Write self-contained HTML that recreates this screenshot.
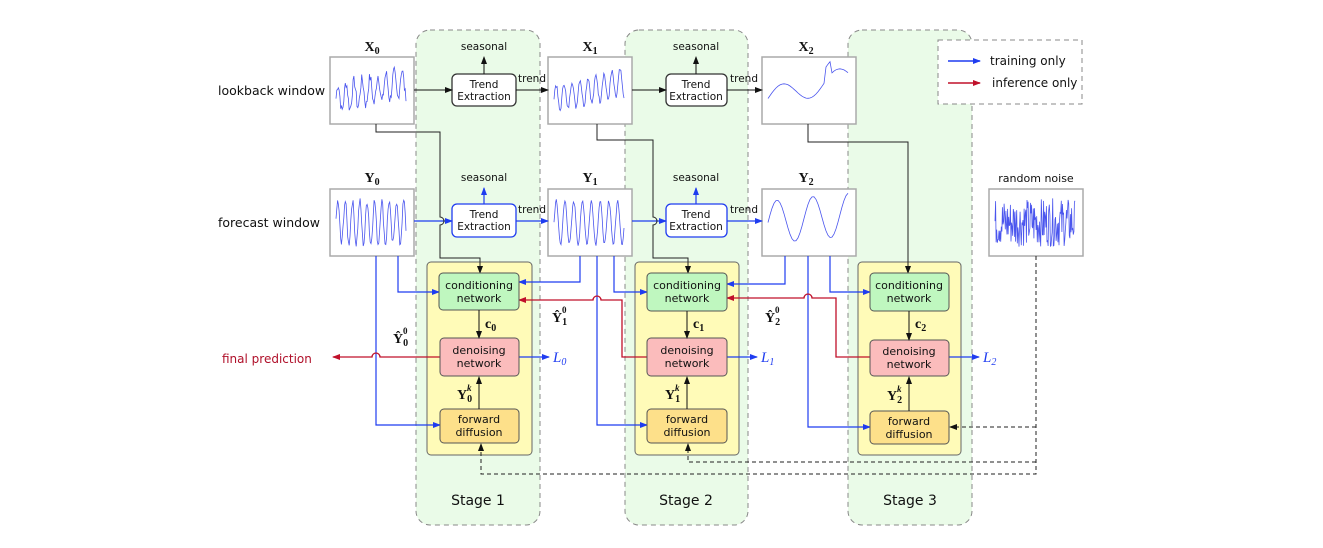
<!DOCTYPE html>
<html><head><meta charset="utf-8"><style>
html,body{margin:0;padding:0;background:#fff}
svg{display:block;font-family:"DejaVu Sans","Liberation Sans",sans-serif}
.lb{fill:#111}
.m{font-family:"Liberation Serif",serif;font-weight:bold;fill:#111}
</style></head><body>
<svg width="1323" height="548" viewBox="0 0 1323 548">
<defs>
<marker id="ak" markerWidth="8" markerHeight="8" refX="7" refY="4" orient="auto" markerUnits="userSpaceOnUse"><path d="M0,1 L8,4 L0,7 z" fill="#111"/></marker>
<marker id="ab" markerWidth="8" markerHeight="8" refX="7" refY="4" orient="auto" markerUnits="userSpaceOnUse"><path d="M0,1 L8,4 L0,7 z" fill="#1f3cf0"/></marker>
<marker id="ar" markerWidth="8" markerHeight="8" refX="7" refY="4" orient="auto" markerUnits="userSpaceOnUse"><path d="M0,1 L8,4 L0,7 z" fill="#c0102a"/></marker>
</defs>
<g fill="#eafbe8" stroke="#888" stroke-dasharray="5,4" stroke-width="1">
<rect x="416" y="30" width="124" height="495" rx="14"/>
<rect x="625" y="30" width="123" height="495" rx="14"/>
<rect x="848" y="30" width="124" height="495" rx="14"/>
<rect x="938" y="40" width="144" height="64" fill="#fff"/>
</g>
<line x1="948" y1="61" x2="980" y2="61" stroke="#1f3cf0" stroke-width="1.5" marker-end="url(#ab)"/>
<text x="990" y="65" class="lb" font-size="12">training only</text>
<line x1="948" y1="83" x2="980" y2="83" stroke="#c0102a" stroke-width="1.5" marker-end="url(#ar)"/>
<text x="992" y="87" class="lb" font-size="12">inference only</text>
<g fill="#fffbb8" stroke="#666" stroke-width="1">
<rect x="427" y="262" width="105" height="193" rx="4"/>
<rect x="635" y="262" width="104" height="193" rx="4"/>
<rect x="858" y="262" width="103" height="193" rx="4"/>
</g>
<g fill="#fff" stroke="#aaa" stroke-width="1.5">
<rect x="330" y="57" width="84" height="67"/><rect x="548" y="57" width="84" height="67"/><rect x="762" y="57" width="94" height="67"/>
<rect x="330" y="189" width="84" height="67"/><rect x="548" y="189" width="84" height="67"/><rect x="762" y="189" width="94" height="67"/>
<rect x="989" y="189" width="94" height="67"/>
</g>
<g fill="none" stroke="#4a55ee" stroke-width="0.8" id="curves"></g>
<g class="m" font-size="14" text-anchor="middle">
<text x="372" y="51">X<tspan font-size="10" dy="3">0</tspan></text>
<text x="590" y="51">X<tspan font-size="10" dy="3">1</tspan></text>
<text x="806" y="51">X<tspan font-size="10" dy="3">2</tspan></text>
<text x="372" y="182">Y<tspan font-size="10" dy="3">0</tspan></text>
<text x="590" y="182">Y<tspan font-size="10" dy="3">1</tspan></text>
<text x="806" y="182">Y<tspan font-size="10" dy="3">2</tspan></text>
</g>
<text x="1036" y="182" class="lb" text-anchor="middle" font-size="11">random noise</text>
<text x="218" y="95" class="lb" font-size="12.5">lookback window</text>
<text x="218" y="227" class="lb" font-size="12.5">forecast window</text>
<g fill="#fff" stroke-width="1.3">
<rect x="452" y="74" width="64" height="32" rx="5" stroke="#333"/>
<rect x="666" y="74" width="61" height="32" rx="5" stroke="#333"/>
<rect x="452" y="204" width="64" height="33" rx="5" stroke="#1f3cf0"/>
<rect x="666" y="204" width="61" height="33" rx="5" stroke="#1f3cf0"/>
</g>
<g class="lb" font-size="10.5" text-anchor="middle">
<text x="484" y="88">Trend</text><text x="484" y="100">Extraction</text>
<text x="696" y="88">Trend</text><text x="696" y="100">Extraction</text>
<text x="484" y="218">Trend</text><text x="484" y="230">Extraction</text>
<text x="696" y="218">Trend</text><text x="696" y="230">Extraction</text>
<text x="484" y="50">seasonal</text><text x="696" y="50">seasonal</text>
<text x="484" y="181">seasonal</text><text x="696" y="181">seasonal</text>
<text x="532" y="82">trend</text><text x="744" y="82">trend</text>
<text x="532" y="213">trend</text><text x="744" y="213">trend</text>
</g>
<g stroke="#111" stroke-width="1" fill="none" marker-end="url(#ak)">
<line x1="414" y1="90" x2="452" y2="90"/><line x1="516" y1="90" x2="548" y2="90"/>
<line x1="632" y1="90" x2="666" y2="90"/><line x1="727" y1="90" x2="762" y2="90"/>
<line x1="484" y1="74" x2="484" y2="57"/><line x1="696" y1="74" x2="696" y2="57"/>
</g>
<g stroke="#1f3cf0" stroke-width="1.2" fill="none" marker-end="url(#ab)">
<line x1="414" y1="221" x2="452" y2="221"/><line x1="516" y1="221" x2="548" y2="221"/>
<line x1="632" y1="221" x2="666" y2="221"/><line x1="727" y1="221" x2="762" y2="221"/>
<line x1="484" y1="204" x2="484" y2="188"/><line x1="696" y1="204" x2="696" y2="188"/>
</g>
<g stroke="#222" stroke-width="1" fill="none" marker-end="url(#ak)">
<path d="M376,124 V132 H440 V217 a4,4 0 0 1 0,8 V258 H480 V273"/>
<path d="M597,124 V140 H653 V217 a4,4 0 0 1 0,8 V258 H688 V273"/>
<path d="M808,124 V142 H908 V273"/>
</g>
<g stroke="#1f3cf0" stroke-width="1.2" fill="none" marker-end="url(#ab)">
<path d="M376,256 V425 H440"/><path d="M398,256 V292 H439"/>
<path d="M597,256 V425 H647"/><path d="M614,256 V292 H647"/>
<path d="M580,256 V282 H519"/>
<path d="M808,256 V427 H870"/><path d="M830,256 V292 H870"/>
<path d="M785,256 V284 H727"/>
<line x1="519" y1="357" x2="549" y2="357"/><line x1="727" y1="357" x2="757" y2="357"/><line x1="949" y1="357" x2="979" y2="357"/>
</g>
<g stroke="#c0102a" stroke-width="1.3" fill="none" marker-end="url(#ar)">
<path d="M440,357 H380 a4,4 0 0 0 -8,0 H333"/>
<path d="M647,357 H622 V300 H601 a4,4 0 0 0 -8,0 H519"/>
<path d="M870,357 H836 V298 H812 a4,4 0 0 0 -8,0 H727"/>
</g>
<g stroke="#222" stroke-width="1" fill="none" stroke-dasharray="4,3" marker-end="url(#ak)">
<path d="M1036,256 V474 H481 V444"/>
<path d="M1036,462 H688 V444"/>
<path d="M1036,427 H950"/>
</g>
<g stroke="#555" stroke-width="1">
<rect x="439" y="273" width="80" height="37" rx="4" fill="#bff7bf"/>
<rect x="440" y="338" width="79" height="38" rx="4" fill="#fbbcbc"/>
<rect x="440" y="409" width="79" height="34" rx="4" fill="#fde08a"/>
<rect x="647" y="273" width="80" height="38" rx="4" fill="#bff7bf"/>
<rect x="647" y="338" width="80" height="38" rx="4" fill="#fbbcbc"/>
<rect x="647" y="409" width="80" height="34" rx="4" fill="#fde08a"/>
<rect x="870" y="273" width="79" height="38" rx="4" fill="#bff7bf"/>
<rect x="870" y="340" width="79" height="36" rx="4" fill="#fbbcbc"/>
<rect x="870" y="411" width="79" height="33" rx="4" fill="#fde08a"/>
</g>
<g class="lb" font-size="11" text-anchor="middle">
<text x="479" y="289">conditioning</text><text x="479" y="302">network</text>
<text x="479" y="354">denoising</text><text x="479" y="367">network</text>
<text x="479" y="423">forward</text><text x="479" y="436">diffusion</text>
<text x="687" y="289">conditioning</text><text x="687" y="302">network</text>
<text x="687" y="354">denoising</text><text x="687" y="367">network</text>
<text x="687" y="423">forward</text><text x="687" y="436">diffusion</text>
<text x="909" y="289">conditioning</text><text x="909" y="302">network</text>
<text x="909" y="355">denoising</text><text x="909" y="368">network</text>
<text x="909" y="425">forward</text><text x="909" y="438">diffusion</text>
</g>
<g stroke="#111" stroke-width="1" marker-end="url(#ak)">
<line x1="479" y1="310" x2="479" y2="338"/><line x1="479" y1="409" x2="479" y2="377"/>
<line x1="687" y1="311" x2="687" y2="338"/><line x1="687" y1="409" x2="687" y2="377"/>
<line x1="909" y1="311" x2="909" y2="340"/><line x1="909" y1="411" x2="909" y2="377"/>
</g>
<g class="m" font-size="14">
<text x="485" y="328">c<tspan font-size="10" dy="3">0</tspan></text>
<text x="693" y="328">c<tspan font-size="10" dy="3">1</tspan></text>
<text x="915" y="328">c<tspan font-size="10" dy="3">2</tspan></text>
<text x="457" y="399">Y<tspan font-size="10" dy="3">0</tspan></text>
<text x="665" y="399">Y<tspan font-size="10" dy="3">1</tspan></text>
<text x="887" y="400">Y<tspan font-size="10" dy="3">2</tspan></text>
<text x="393" y="343">Ŷ<tspan font-size="10" dy="3">0</tspan></text>
<text x="552" y="322">Ŷ<tspan font-size="10" dy="3">1</tspan></text>
<text x="765" y="322">Ŷ<tspan font-size="10" dy="3">2</tspan></text>
</g>
<g font-family="Liberation Serif,serif" font-size="9" font-weight="bold" fill="#111">
<text x="467" y="391" font-style="italic">k</text><text x="675" y="391" font-style="italic">k</text><text x="897" y="392" font-style="italic">k</text>
<text x="403" y="334">0</text><text x="562" y="313">0</text><text x="775" y="313">0</text>
</g>
<g font-family="Liberation Serif,serif" font-style="italic" font-size="15" fill="#1f3cf0">
<text x="553" y="362">L<tspan font-size="10" dy="3">0</tspan></text>
<text x="761" y="362">L<tspan font-size="10" dy="3">1</tspan></text>
<text x="983" y="362">L<tspan font-size="10" dy="3">2</tspan></text>
</g>
<text x="222" y="363" font-size="12" fill="#b0102a">final prediction</text>
<g class="lb" font-size="14" text-anchor="middle">
<text x="478" y="505">Stage 1</text><text x="686" y="505">Stage 2</text><text x="910" y="505">Stage 3</text>
</g>
</svg>
<script>
(function(){
var g=document.getElementById('curves');var s=7;
function r(){s=(s*9301+49297)%233280;return s/233280;}
function add(x0,y0,w,h,n,f){var p='';for(var i=0;i<=n;i++){var t=i/n;var v=f(t);var x=x0+6+t*(w-14),y=y0+h/2-v*h*0.4;p+=(i?'L':'M')+x.toFixed(1)+','+y.toFixed(1);}
var e=document.createElementNS('http://www.w3.org/2000/svg','path');e.setAttribute('d',p);g.appendChild(e);}
add(330,57,84,67,90,function(t){return 0.5*Math.sin(t*55)+0.6*t-0.3+(r()-0.5)*0.4;});
add(548,57,84,67,90,function(t){return 0.5*Math.sin(t*55)+0.6*t-0.3+(r()-0.5)*0.2;});
add(762,57,94,67,40,function(t){return 0.4*Math.sin(t*9)+0.8*t-0.3+(t>0.7&&t<0.8?0.5:0);});
add(330,189,84,67,90,function(t){return 0.8*Math.sin(t*60)+(r()-0.5)*0.3;});
add(548,189,84,67,90,function(t){return 0.8*Math.sin(t*50)+(r()-0.5)*0.15;});
add(762,189,94,67,40,function(t){return 0.8*Math.sin(t*14)+0.3*t;});
add(989,189,94,67,140,function(t){return (r()-0.5)*1.8;});
})();
</script>
</body></html>
